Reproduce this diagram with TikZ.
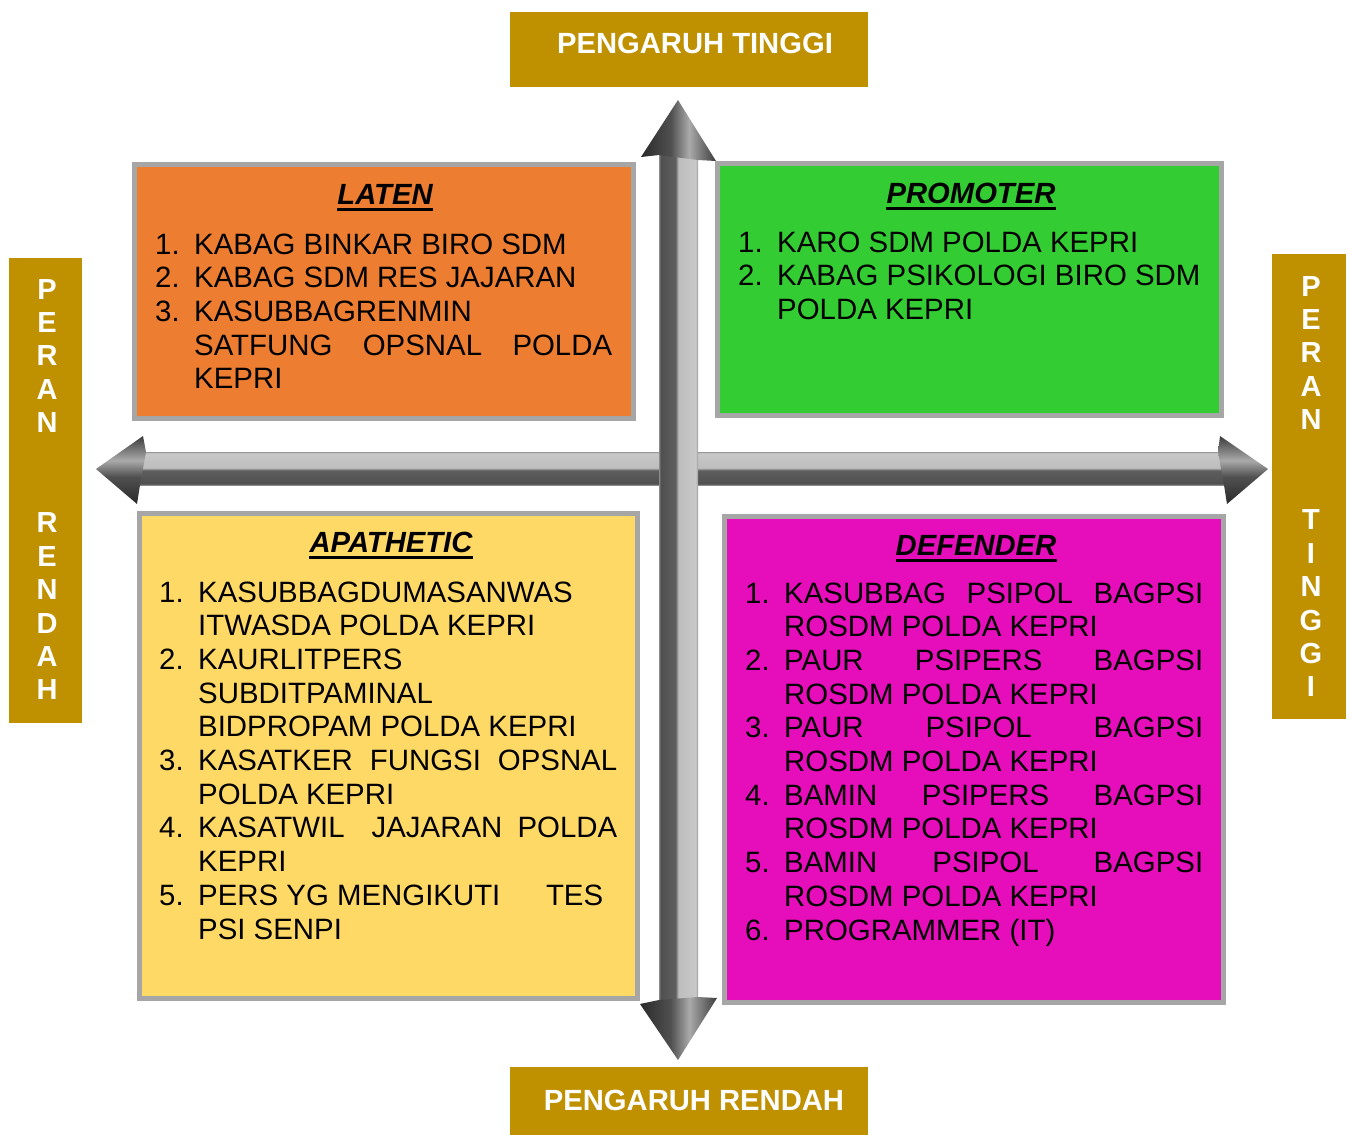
\documentclass[tikz,border=0pt]{standalone}
\usepackage{fontspec}
\setmainfont{Liberation Sans}
\definecolor{gold}{HTML}{BF9000}
\definecolor{bordergray}{HTML}{A6A6A6}
\definecolor{laten}{HTML}{ED7D31}
\definecolor{promoter}{HTML}{33CC33}
\definecolor{apathetic}{HTML}{FFD966}
\definecolor{defender}{HTML}{E60EBA}
\definecolor{sEdgeA}{HTML}{8A8A8A}
\definecolor{sDark}{HTML}{505050}
\definecolor{sDarkB}{HTML}{5E5E5E}
\definecolor{sMid}{HTML}{8C8C8C}
\definecolor{sLight}{HTML}{BDBDBD}
\definecolor{sLightB}{HTML}{C8C8C8}
\definecolor{sEdgeB}{HTML}{9A9A9A}
\definecolor{hDark}{HTML}{2A2A2A}
\definecolor{hMid}{HTML}{505050}
\definecolor{hLight}{HTML}{AAAAAA}
\definecolor{hEnd}{HTML}{3C3C3C}
\pgfdeclarehorizontalshading{vshaft}{100bp}{color(0bp)=(sEdgeA); color(25bp)=(sEdgeA); color(27bp)=(sDark); color(46bp)=(sDarkB); color(48bp)=(sMid); color(50bp)=(sLight); color(72bp)=(sLightB); color(75bp)=(sEdgeB); color(100bp)=(sEdgeB)}
\pgfdeclareverticalshading{hshaft}{100bp}{color(0bp)=(sEdgeA); color(25bp)=(sEdgeA); color(27bp)=(sDark); color(47bp)=(sDarkB); color(49bp)=(sMid); color(51bp)=(sLight); color(73bp)=(sLightB); color(75bp)=(sEdgeB); color(100bp)=(sEdgeB)}
\pgfdeclarehorizontalshading{vhead}{100bp}{color(0bp)=(hDark); color(25bp)=(hDark); color(45bp)=(hMid); color(57bp)=(hLight); color(75bp)=(hEnd); color(100bp)=(hEnd)}
\pgfdeclareverticalshading{hhead}{100bp}{color(0bp)=(hDark); color(25bp)=(hDark); color(45bp)=(hMid); color(57bp)=(hLight); color(75bp)=(hEnd); color(100bp)=(hEnd)}
\newcommand\nm[1]{\makebox[39pt][l]{#1}}
\newcommand\ind{\hspace*{39pt}}
\newcommand\bodyfont{\fontsize{29.4}{33.7}\selectfont}
\begin{document}
\begin{tikzpicture}[x=1pt,y=-1pt,
  qbox/.style={draw=bordergray,line width=5pt},
  ttl/.style={font=\bfseries\itshape\fontsize{29.2}{33.7}\selectfont, inner sep=0pt, anchor=base},
  lbl/.style={font=\bfseries\fontsize{29.2}{33.7}\selectfont, text=white, inner sep=0pt, anchor=base},
  body/.style={inner sep=0pt, anchor=base west},
  uline/.style={line width=3pt}
]
\useasboundingbox (0,0) rectangle (1350,1135);

% gold labels
\fill[gold] (510,12) rectangle (868,87);
\node[lbl] (ptinggi) at (695,53) {PENGARUH TINGGI};
\fill[gold] (510,1067) rectangle (868,1135);
\node[lbl] (prendah) at (694,1110) {PENGARUH RENDAH};
\fill[gold] (9,258) rectangle (82,723);
\node[lbl] (rrendah) at (47,299) {\parbox[t]{50pt}{\centering\fontsize{29}{33.4}\selectfont P\\E\\R\\A\\N\\~\\~\\R\\E\\N\\D\\A\\H}};
\fill[gold] (1272,254) rectangle (1346,719);
\node[lbl] (rtinggi) at (1311,296) {\parbox[t]{50pt}{\centering\fontsize{29}{33.4}\selectfont P\\E\\R\\A\\N\\~\\~\\T\\I\\N\\G\\G\\I}};

% quadrant boxes
\draw[qbox, fill=laten] (134.5,164.5) rectangle (633.5,418.5);
\draw[qbox, fill=promoter] (717.5,163.5) rectangle (1221.5,415.5);
\draw[qbox, fill=apathetic] (139.5,513.5) rectangle (637.5,998.5);
\draw[qbox, fill=defender] (724.5,516.5) rectangle (1223.5,1002.5);

% titles
\node[ttl] (tlaten) at (385,204) {LATEN};
\draw[uline] ([yshift=-5.5pt]tlaten.base west) -- ([yshift=-5.5pt]tlaten.base east);
\node[ttl] (tpromoter) at (971,203) {PROMOTER};
\draw[uline] ([yshift=-5.5pt]tpromoter.base west) -- ([yshift=-5.5pt]tpromoter.base east);
\node[ttl] (tapathetic) at (391,552) {APATHETIC};
\draw[uline] ([yshift=-5.5pt]tapathetic.base west) -- ([yshift=-5.5pt]tapathetic.base east);
\node[ttl] (tdefender) at (976,555) {DEFENDER};
\draw[uline] ([yshift=-5.5pt]tdefender.base west) -- ([yshift=-5.5pt]tdefender.base east);

% bodies
\node[body] (blaten) at (155,254) {\parbox[t]{470pt}{\bodyfont
\nm{1.}KABAG BINKAR BIRO SDM\\
\nm{2.}KABAG SDM RES JAJARAN\\
\nm{3.}KASUBBAGRENMIN\\
\ind\makebox[418pt][s]{SATFUNG\hfill OPSNAL\hfill POLDA}\\
\ind KEPRI}};

\node[body] (bpromoter) at (738,252) {\parbox[t]{470pt}{\bodyfont
\nm{1.}KARO SDM POLDA KEPRI\\
\nm{2.}KABAG PSIKOLOGI BIRO SDM\\
\ind POLDA KEPRI}};

\node[body] (bapathetic) at (159,602) {\parbox[t]{470pt}{\bodyfont
\nm{1.}KASUBBAGDUMASANWAS\\
\ind ITWASDA POLDA KEPRI\\
\nm{2.}KAURLITPERS\\
\ind SUBDITPAMINAL\\
\ind BIDPROPAM POLDA KEPRI\\
\nm{3.}\makebox[419pt][s]{KASATKER\hfill FUNGSI\hfill OPSNAL}\\
\ind POLDA KEPRI\\
\nm{4.}\makebox[419pt][s]{KASATWIL\hspace{27pt}JAJARAN\hfill POLDA}\\
\ind KEPRI\\
\nm{5.}\makebox[405pt][s]{PERS YG MENGIKUTI\hfill TES}\\
\ind PSI SENPI}};

\node[body] (bdefender) at (745,603) {\parbox[t]{470pt}{\bodyfont
\nm{1.}\makebox[419pt][s]{KASUBBAG\hfill PSIPOL\hfill BAGPSI}\\
\ind ROSDM POLDA KEPRI\\
\nm{2.}\makebox[419pt][s]{PAUR\hfill PSIPERS\hfill BAGPSI}\\
\ind ROSDM POLDA KEPRI\\
\nm{3.}\makebox[419pt][s]{PAUR\hfill PSIPOL\hfill BAGPSI}\\
\ind ROSDM POLDA KEPRI\\
\nm{4.}\makebox[419pt][s]{BAMIN\hfill PSIPERS\hfill BAGPSI}\\
\ind ROSDM POLDA KEPRI\\
\nm{5.}\makebox[419pt][s]{BAMIN\hfill PSIPOL\hfill BAGPSI}\\
\ind ROSDM POLDA KEPRI\\
\nm{6.}PROGRAMMER (IT)}};

% axis arrows
\coordinate (hl) at (96,469);
\coordinate (hr) at (1268,469);
\coordinate (vt) at (678,100);
\coordinate (vb) at (678,1060);
\shade[shading=hshaft] (139,452) rectangle (1224,485);
\shade[shading=hhead] (hl) -- (143,436) -- (146,452) -- (140,485) -- (137,504) -- cycle;
\shade[shading=hhead] (hr) -- (1220,436) -- (1218,452) -- (1224,485) -- (1227,504) -- cycle;
\shade[shading=vshaft] (659,155) rectangle (698,1004);
\shade[shading=vhead] (vt) -- (641,157) -- (659,155) -- (698,160) -- (716,161) -- cycle;
\shade[shading=vhead] (vb) -- (640,1004) -- (659,1000) -- (698,997) -- (717,998) -- cycle;
\end{tikzpicture}
\end{document}
